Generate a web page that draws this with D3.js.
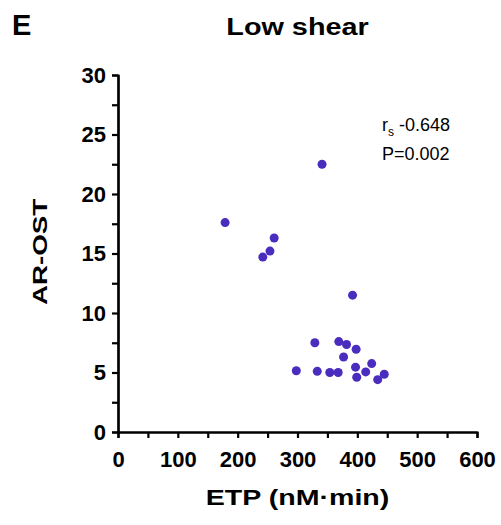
<!DOCTYPE html>
<html>
<head>
<meta charset="utf-8">
<script src="https://cdn.jsdelivr.net/npm/d3@7"></script>
<style>
  body { margin: 0; background: #fff; }
  text { font-family: 'Liberation Sans', Arial, sans-serif; }
</style>
</head>
<body>
<div id="chart"></div>
<script>
// ETP (nM·min) vs AR-OST, low shear
let etp = [341, 179, 261, 254, 242, 392, 329, 369, 382, 398, 377, 424, 397, 298, 333, 354, 368, 414, 399, 445, 434]
let arost = [22.5, 17.6, 16.3, 15.2, 14.7, 11.5, 7.5, 7.6, 7.35, 6.95, 6.3, 5.75, 5.45, 5.15, 5.1, 5.0, 5.0, 5.05, 4.6, 4.85, 4.4]
let xTicks = [0, 100, 200, 300, 400, 500, 600]
let yTicks = [0, 5, 10, 15, 20, 25, 30]

let svgWidth = 501
let svgHeight = 525
let margin = { top: 75, right: 24, bottom: 93, left: 118 }
let width = svgWidth - margin.left - margin.right
let height = svgHeight - margin.top - margin.bottom

let svg = d3.select('#chart').append('svg')
    .attr('width', svgWidth)
    .attr('height', svgHeight)

let g = svg.append('g')
    .attr('transform', 'translate(' + margin.left + ', ' + margin.top + ')')

let xScale = d3.scaleLinear().domain([0, 600]).range([0, width])
let yScale = d3.scaleLinear().domain([0, 30]).range([height, 0])

// minor ticks first, so the labelled axis sits on top
g.append('g')
    .attr('transform', 'translate(0,' + height + ')')
    .call(d3.axisBottom(xScale).tickValues(d3.range(50, 600, 100)).tickSize(6).tickFormat(''))
g.append('g')
    .call(d3.axisLeft(yScale).tickValues(d3.range(2.5, 30, 5)).tickSize(6).tickFormat(''))

let xAxis = g.append('g')
    .attr('class', 'x axis')
    .attr('transform', 'translate(0,' + height + ')')
    .call(d3.axisBottom(xScale).tickValues(xTicks).tickSize(6).tickPadding(13).tickSizeOuter(0))

let yAxis = g.append('g')
    .attr('class', 'y axis')
    .call(d3.axisLeft(yScale).tickValues(yTicks).tickSize(6).tickPadding(6).tickSizeOuter(0))

g.selectAll('.domain, .tick line')
    .attr('stroke', '#000')
    .attr('stroke-width', 2.2)

g.selectAll('.axis text')
    .attr('font-size', 22)
    .attr('font-weight', 'bold')
    .attr('fill', '#000')
    .attr('font-family', 'Liberation Sans, Arial, sans-serif')

// points
g.selectAll('circle')
    .data(etp.map(function (d, i) { return { x: d, y: arost[i] } }))
    .enter().append('circle')
    .attr('cx', function (d) { return xScale(d.x) })
    .attr('cy', function (d) { return yScale(d.y) })
    .attr('r', 4.5)
    .attr('fill', '#4a2dbf')

// titles (the source lettering is a bit wider than Liberation Sans)
svg.append('text')
    .attr('x', 12)
    .attr('y', 35)
    .attr('font-size', 29)
    .attr('font-weight', 'bold')
    .text('E')

svg.append('text')
    .attr('transform', 'translate(' + (margin.left + width / 2) + ',35) scale(1.2,1)')
    .attr('text-anchor', 'middle')
    .attr('font-size', 24)
    .attr('font-weight', 'bold')
    .text('Low shear')

svg.append('text')
    .attr('transform', 'translate(' + (margin.left + width / 2) + ',505) scale(1.3,1)')
    .attr('text-anchor', 'middle')
    .attr('font-size', 22)
    .attr('font-weight', 'bold')
    .text('ETP (nM·min)')

svg.append('text')
    .attr('transform', 'translate(47,252) rotate(-90) scale(1.32,1)')
    .attr('text-anchor', 'middle')
    .attr('font-size', 21)
    .attr('font-weight', 'bold')
    .text('AR-OST')

// correlation note
let note = svg.append('text')
    .attr('x', 382)
    .attr('y', 131)
    .attr('font-size', 18)
note.append('tspan').text('r')
note.append('tspan').attr('font-size', 12).attr('dy', 5).text('s')
note.append('tspan').attr('dy', -5).text(' -0.648')

svg.append('text')
    .attr('x', 382)
    .attr('y', 160)
    .attr('font-size', 18)
    .text('P=0.002')
</script>
</body>
</html>
